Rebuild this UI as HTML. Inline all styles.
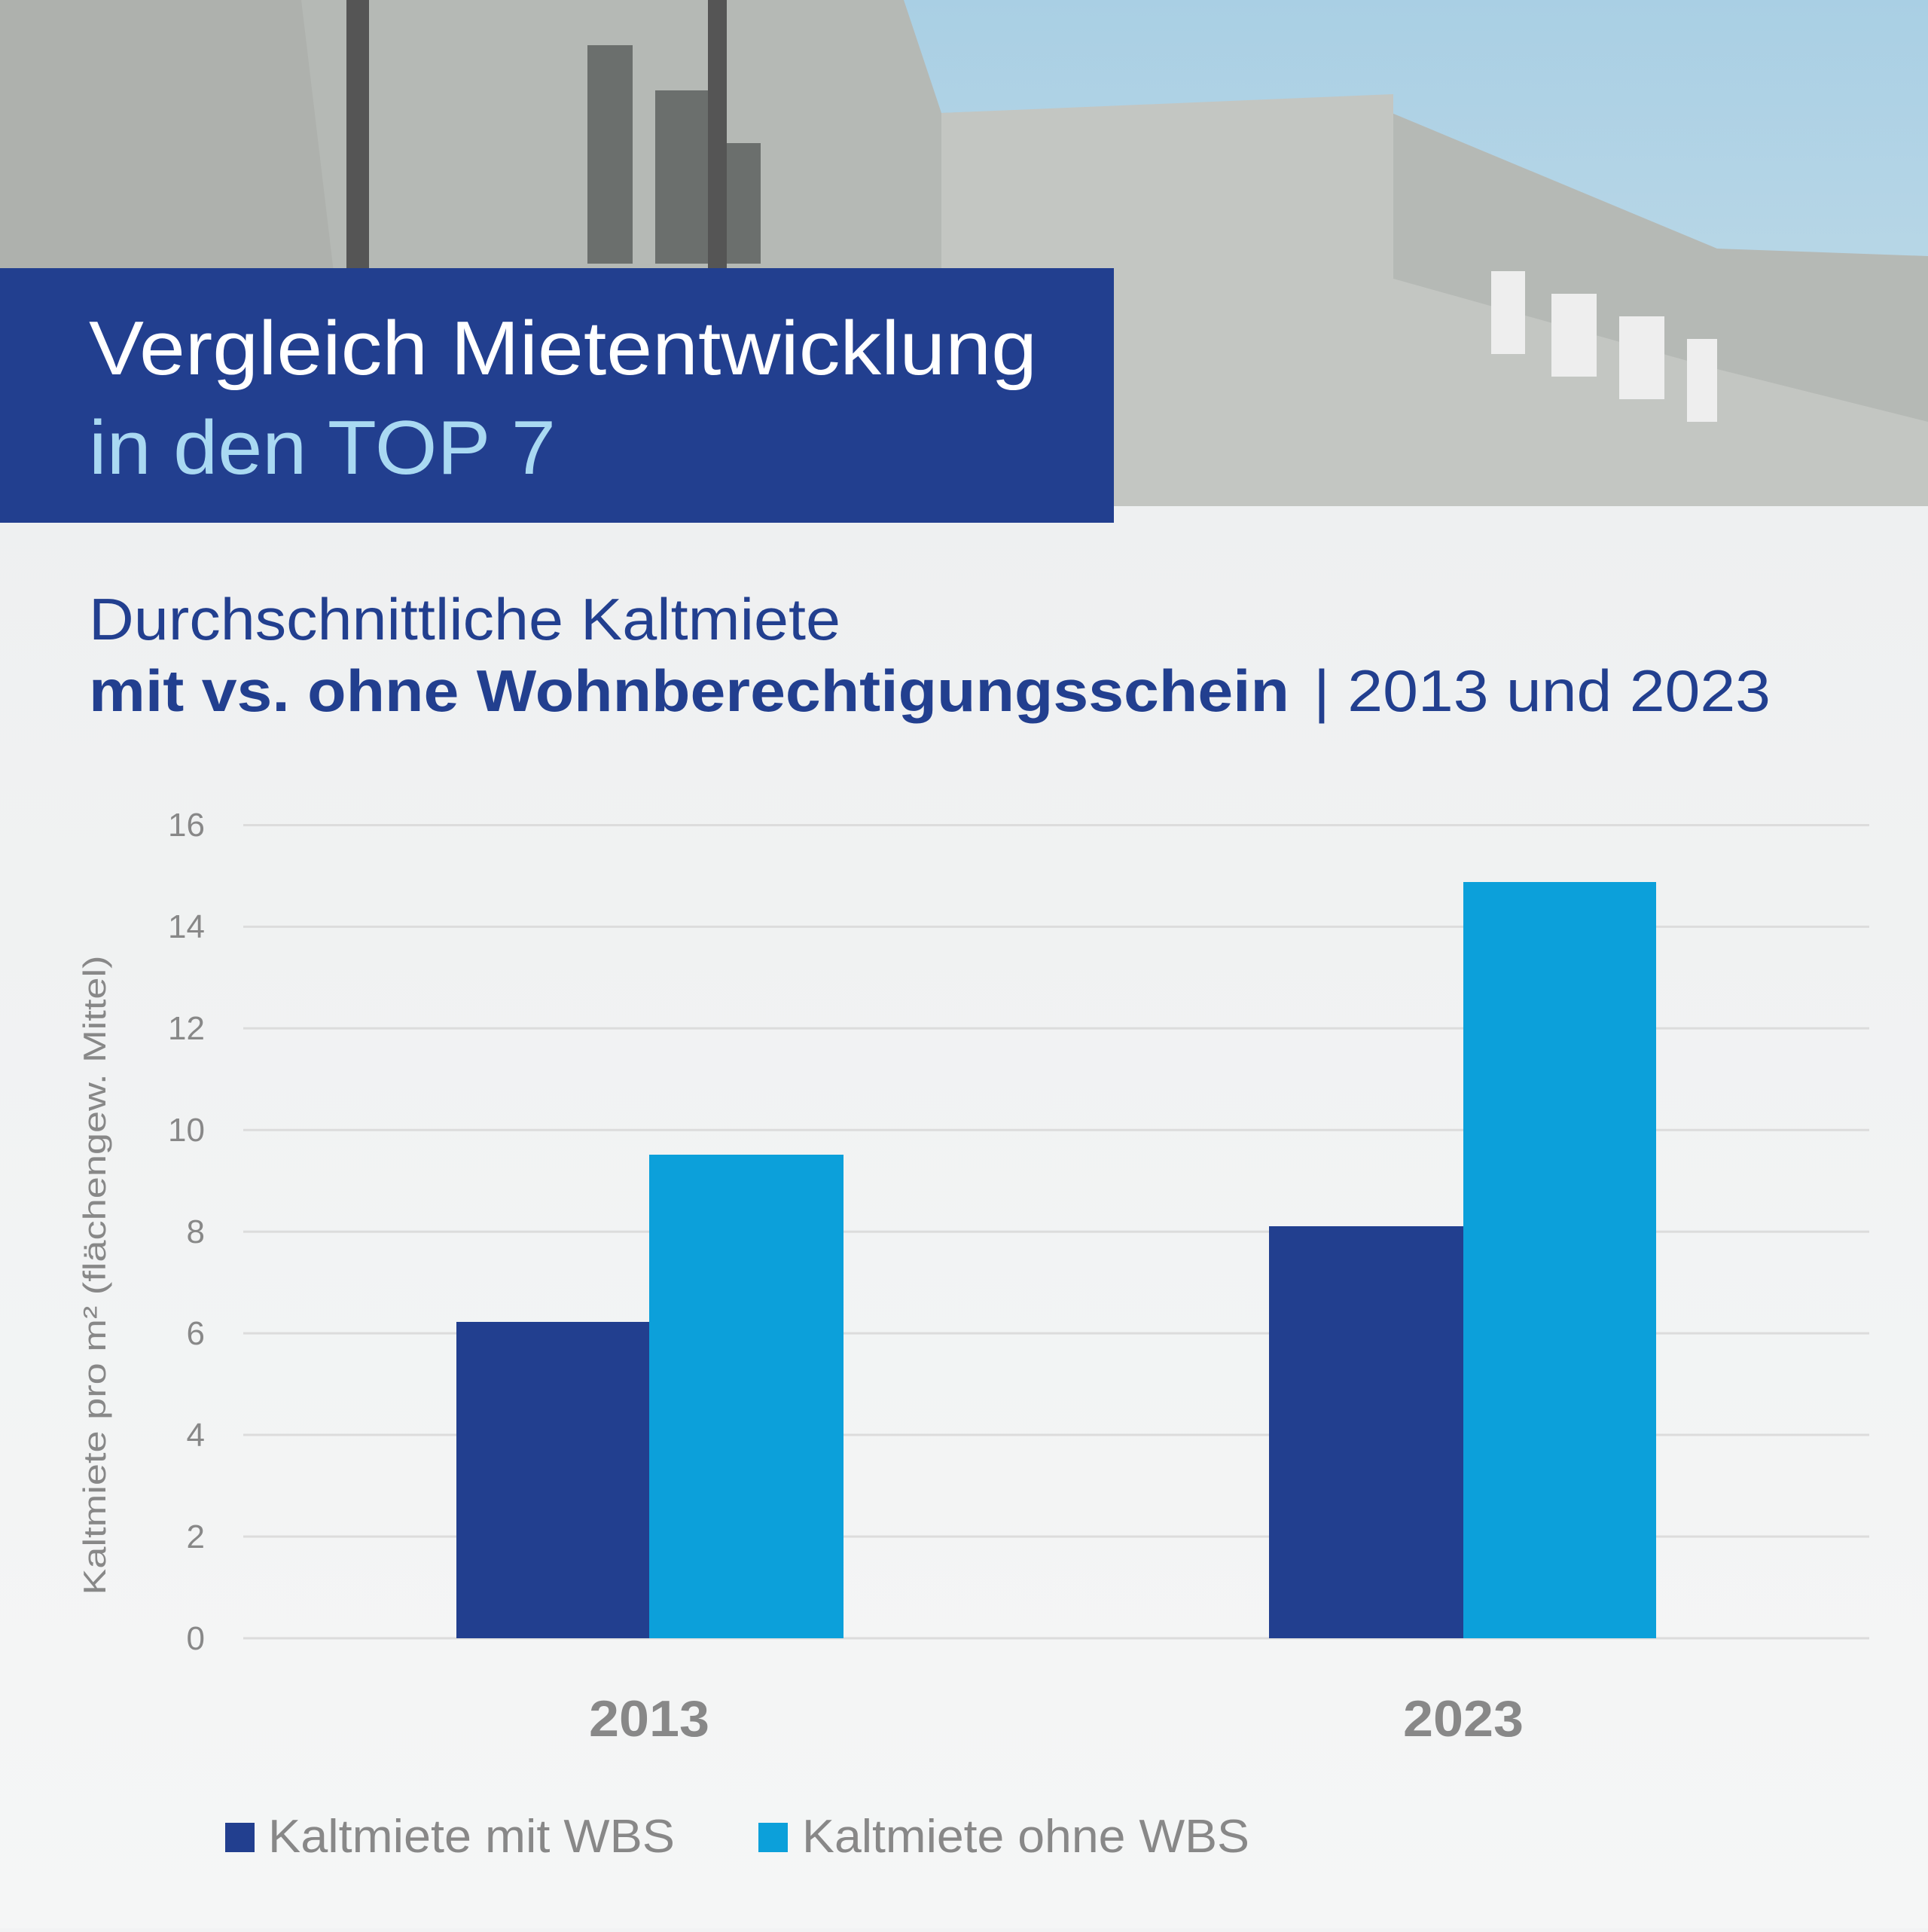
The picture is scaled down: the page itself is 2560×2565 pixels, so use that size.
<!DOCTYPE html>
<html><head><meta charset="utf-8"><style>html,body{margin:0;padding:0;background:#f2f3f4}</style></head>
<body>
<svg width="2560" height="2560" viewBox="0 0 2560 2560" xmlns="http://www.w3.org/2000/svg" font-family="Liberation Sans, DejaVu Sans, sans-serif">
<defs>
<linearGradient id="sky" x1="0" y1="0" x2="0" y2="1"><stop offset="0" stop-color="#a9cfe4"/><stop offset="1" stop-color="#c4dde9"/></linearGradient>
<linearGradient id="fade" x1="0" y1="0" x2="0" y2="1"><stop offset="0" stop-color="#eceeef"/><stop offset="1" stop-color="#f5f6f6"/></linearGradient>
</defs>
<rect width="2560" height="2560" fill="url(#fade)"/>
<rect x="0" y="0" width="2560" height="672" fill="url(#sky)"/>
<polygon points="0,0 1200,0 1250,150 1800,130 2280,330 2560,340 2560,672 0,672" fill="#b5b9b5"/>
<polygon points="1250,150 1850,125 1850,370 2280,490 2560,560 2560,672 1250,672" fill="#c3c6c2"/>
<polygon points="0,0 400,0 480,672 0,672" fill="#aeb1ad"/>
<rect x="780" y="60" width="60" height="290" fill="#6b6f6d"/>
<rect x="870" y="120" width="70" height="230" fill="#6b6f6d"/>
<rect x="960" y="190" width="50" height="160" fill="#6b6f6d"/>
<rect x="460" y="0" width="30" height="356" fill="#555"/>
<rect x="940" y="0" width="25" height="356" fill="#555"/>
<rect x="1980" y="360" width="45" height="110" fill="#eee"/>
<rect x="2060" y="390" width="60" height="110" fill="#eee"/>
<rect x="2150" y="420" width="60" height="110" fill="#eee"/>
<rect x="2240" y="450" width="40" height="110" fill="#eee"/>
<rect x="0" y="356" width="1479" height="338" fill="#223f8f"/>
<text x="118" y="497" font-size="101" fill="#ffffff" textLength="1259" lengthAdjust="spacingAndGlyphs">Vergleich Mietentwicklung</text>
<text x="118" y="629" font-size="101" fill="#a9d9f2" textLength="620" lengthAdjust="spacingAndGlyphs">in den TOP 7</text>
<text x="118" y="849" font-size="78" fill="#223f8f" textLength="998" lengthAdjust="spacingAndGlyphs">Durchschnittliche Kaltmiete</text>
<text x="118" y="944" font-size="78" fill="#223f8f" font-weight="bold" textLength="1594" lengthAdjust="spacingAndGlyphs">mit vs. ohne Wohnberechtigungsschein</text>
<text x="1744" y="944" font-size="78" fill="#223f8f" textLength="607" lengthAdjust="spacingAndGlyphs">| 2013 und 2023</text>
<g stroke="#dcdcdc" stroke-width="3">
<line x1="323" y1="1095.5" x2="2482" y2="1095.5"/><line x1="323" y1="1230.4" x2="2482" y2="1230.4"/>
<line x1="323" y1="1365.3" x2="2482" y2="1365.3"/><line x1="323" y1="1500.2" x2="2482" y2="1500.2"/>
<line x1="323" y1="1635.3" x2="2482" y2="1635.3"/><line x1="323" y1="1770.1" x2="2482" y2="1770.1"/>
<line x1="323" y1="1905" x2="2482" y2="1905"/><line x1="323" y1="2040" x2="2482" y2="2040"/>
<line x1="323" y1="2175" x2="2482" y2="2175"/>
</g>
<g font-size="44" fill="#888" text-anchor="end">
<text x="272" y="1110">16</text><text x="272" y="1245">14</text><text x="272" y="1380">12</text>
<text x="272" y="1515">10</text><text x="272" y="1650">8</text><text x="272" y="1785">6</text>
<text x="272" y="1920">4</text><text x="272" y="2055">2</text><text x="272" y="2190">0</text>
</g>
<text transform="translate(140,1693) rotate(-90)" font-size="42" fill="#888" text-anchor="middle" textLength="849" lengthAdjust="spacingAndGlyphs">Kaltmiete pro m² (flächengew. Mittel)</text>
<rect x="606" y="1755" width="256" height="420" fill="#223f8f"/>
<rect x="862" y="1533" width="258" height="642" fill="#0ca0da"/>
<rect x="1685" y="1628" width="258" height="547" fill="#223f8f"/>
<rect x="1943" y="1171" width="256" height="1004" fill="#0ca0da"/>
<g font-size="68" font-weight="bold" fill="#888" text-anchor="middle">
<text x="862" y="2305" textLength="160" lengthAdjust="spacingAndGlyphs">2013</text><text x="1943" y="2305" textLength="160" lengthAdjust="spacingAndGlyphs">2023</text>
</g>
<rect x="299" y="2420" width="39" height="39" fill="#223f8f"/>
<text x="356" y="2459" font-size="62" fill="#888" textLength="540" lengthAdjust="spacingAndGlyphs">Kaltmiete mit WBS</text>
<rect x="1007" y="2420" width="39" height="39" fill="#0ca0da"/>
<text x="1065" y="2459" font-size="62" fill="#888" textLength="594" lengthAdjust="spacingAndGlyphs">Kaltmiete ohne WBS</text>
</svg>
</body></html>
